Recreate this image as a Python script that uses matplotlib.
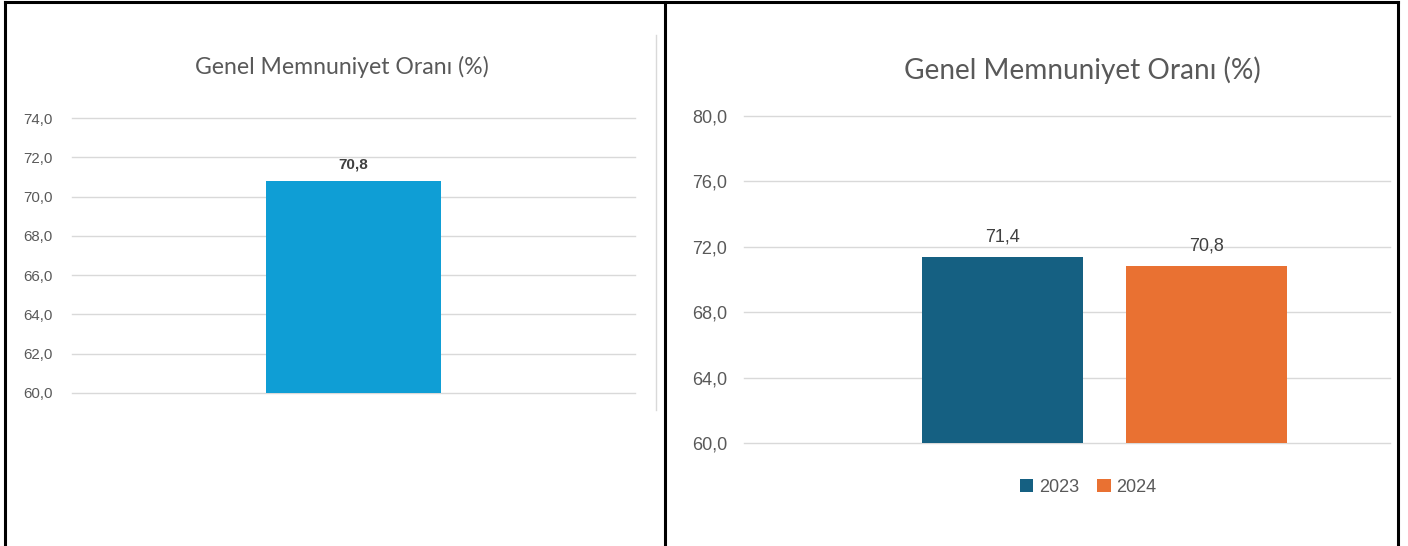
import matplotlib
matplotlib.use("Agg")
import matplotlib.pyplot as plt
from matplotlib.lines import Line2D
from matplotlib.patches import Patch

W, H = 1408, 546

# ---- data ----
title = "Genel Memnuniyet Oranı (%)"
left_category = ["Genel"]
left_values = [70.8]
left_yticks = [60, 62, 64, 66, 68, 70, 72, 74]

right_series = ["2023", "2024"]
right_values = [71.4, 70.8]
right_yticks = [60, 64, 68, 72, 76, 80]

blue = "#0F9ED5"
c2023 = "#156082"
c2024 = "#E97132"
grid_c = "#D9D9D9"
tick_c = "#595959"
lab_c = "#404040"

def fmt(v):
    return f"{v:.1f}".replace(".", ",")

fig = plt.figure(figsize=(W / 100, H / 100), dpi=100)
fig.patch.set_facecolor("white")

def fx(px):
    return px / W

def fy(py):
    return 1 - py / H

# ---- left chart ----
axL = fig.add_axes([fx(72), fy(393), fx(635) - fx(72), fy(118) - fy(393)])
axL.bar([0], left_values, width=1.0, bottom=0, color=blue, zorder=3)
axL.set_ylim(60, 74)
axL.set_xlim(-1.6, 1.6)
axL.set_yticks(left_yticks)
axL.set_yticklabels([fmt(v) for v in left_yticks], fontsize=10.8, color=tick_c,
                    family="Liberation Sans")
axL.tick_params(axis="y", length=0, pad=14)
axL.set_xticks([])
for s in axL.spines.values():
    s.set_visible(False)
axL.yaxis.grid(True, color=grid_c, lw=1.0, zorder=0)
axL.set_axisbelow(True)
for gl in axL.get_ygridlines():
    gl.set_clip_on(False)
for x, v in zip([0], left_values):
    axL.text(x, v + 0.5, fmt(v), ha="center", va="bottom", fontsize=11,
             fontweight="bold", color=lab_c, family="Liberation Sans")
fig.text(fx(342), fy(67), title, ha="center", va="center", fontsize=16.6,
         color=tick_c, family="Lato")

# ---- right chart ----
axR = fig.add_axes([fx(744), fy(443), fx(1390) - fx(744), fy(116) - fy(443)])
offs = [-0.5, 0.5]
cols = [c2023, c2024]
for o, v, c, name in zip(offs, right_values, cols, right_series):
    axR.bar([o], [v], width=0.79, color=c, zorder=3, label=name)
    axR.text(o, v + 0.7, fmt(v), ha="center", va="bottom", fontsize=13,
             color=lab_c, family="Liberation Sans")
axR.set_ylim(60, 80)
axR.set_xlim(-1.767, 1.40)
axR.set_yticks(right_yticks)
axR.set_yticklabels([fmt(v) for v in right_yticks], fontsize=13, color=tick_c,
                    family="Liberation Sans")
axR.tick_params(axis="y", length=0, pad=12)
axR.set_xticks([])
for s in axR.spines.values():
    s.set_visible(False)
axR.yaxis.grid(True, color=grid_c, lw=1.0, zorder=0)
axR.set_axisbelow(True)
for gl in axR.get_ygridlines():
    gl.set_clip_on(False)
fig.text(fx(1082), fy(70), title, ha="center", va="center", fontsize=20.2,
         color=tick_c, family="Lato")

handles = [Patch(facecolor=c, edgecolor="none") for c in cols]
fig.legend(handles, right_series, loc="center", bbox_to_anchor=(fx(1088), fy(487)),
           ncol=2, frameon=False, prop={"family": "Liberation Sans", "size": 13},
           labelcolor=tick_c, handlelength=0.75, handleheight=0.75,
           handletextpad=0.3, columnspacing=1.0)

# ---- separator & borders ----
fig.add_artist(Line2D([fx(656), fx(656)], [fy(35), fy(410)], color=grid_c, lw=1.0))
bk = dict(color="black", lw=2.2, solid_capstyle="projecting")
fig.add_artist(Line2D([fx(5), fx(5)], [fy(2), 0], **bk))
fig.add_artist(Line2D([fx(665), fx(665)], [fy(2), 0], **bk))
fig.add_artist(Line2D([fx(1398), fx(1398)], [fy(2), 0], **bk))
fig.add_artist(Line2D([fx(5), fx(1398)], [fy(2), fy(2)], **bk))

fig.savefig("out.png", dpi=100, facecolor="white")
